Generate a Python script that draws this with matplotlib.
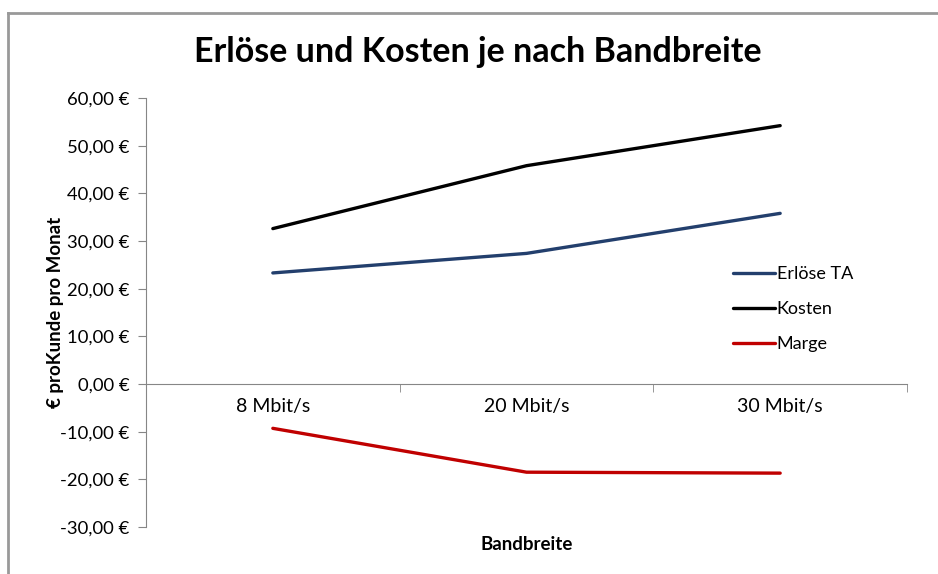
import matplotlib
matplotlib.use("Agg")
import matplotlib.pyplot as plt
from matplotlib.lines import Line2D
from matplotlib.ticker import FuncFormatter

plt.rcParams['font.family'] = ['Lato', 'DejaVu Sans']

categories = ["8 Mbit/s", "20 Mbit/s", "30 Mbit/s"]
erloese = [23.3, 27.4, 35.8]
kosten = [32.6, 45.8, 54.2]
marge = [-9.3, -18.5, -18.7]

fig = plt.figure(figsize=(9.38, 5.74), dpi=100)
ax = fig.add_axes([146 / 938, 1 - 527 / 574, (907 - 146) / 938, (527 - 98) / 574])

x = list(range(len(categories)))
ax.plot(x, erloese, color="#233f6d", lw=2.4, label="Erlöse TA", solid_capstyle="round")
ax.plot(x, kosten, color="#000000", lw=2.4, label="Kosten", solid_capstyle="round")
ax.plot(x, marge, color="#c00000", lw=2.4, label="Marge", solid_capstyle="round")

ax.set_xlim(-0.5, 2.5)
ax.set_ylim(-30, 60)
ax.set_yticks(range(-30, 61, 10))
ax.yaxis.set_major_formatter(FuncFormatter(lambda v, p: f"{v:.2f}".replace(".", ",") + " €"))

ax.set_xticks(x)
ax.set_xticklabels(categories)
ax.set_xticks([-0.5, 0.5, 1.5, 2.5], minor=True)
ax.tick_params(axis="x", which="major", length=0, pad=10, labelsize=14, colors="#000000")
ax.tick_params(axis="x", which="minor", length=6, direction="out", color="#868686")
ax.tick_params(axis="y", length=6, direction="out", color="#868686", labelsize=13.3, pad=6)

for s in ["top", "right"]:
    ax.spines[s].set_visible(False)
ax.spines["bottom"].set_position(("data", 0))
ax.spines["bottom"].set_color("#868686")
ax.spines["left"].set_color("#868686")

fig.text(55 / 938, 1 - 312 / 574, "€ proKunde pro Monat", fontsize=13.5, fontweight="bold",
         rotation=90, ha="center", va="center")
fig.text(527 / 938, 1 - 545 / 574, "Bandbreite", fontsize=13.5, fontweight="bold",
         ha="center", va="center")
fig.text(478 / 938, 1 - 52 / 574, "Erlöse und Kosten je nach Bandbreite", fontsize=24.5,
         fontweight="bold", ha="center", va="center")

ax.legend(loc="upper left", bbox_to_anchor=(571 / 761, 1 - (250 - 98) / 429), frameon=False,
          fontsize=13, handlelength=2.3, handletextpad=0.1, labelspacing=1.05)

fig.add_artist(Line2D([8 / 938, 8 / 938], [0, 1 - 13 / 574], transform=fig.transFigure,
                      color="#999999", lw=2))
fig.add_artist(Line2D([8 / 938, 1], [1 - 13 / 574, 1 - 13 / 574], transform=fig.transFigure,
                      color="#999999", lw=2))

fig.savefig("out.png", dpi=100)
